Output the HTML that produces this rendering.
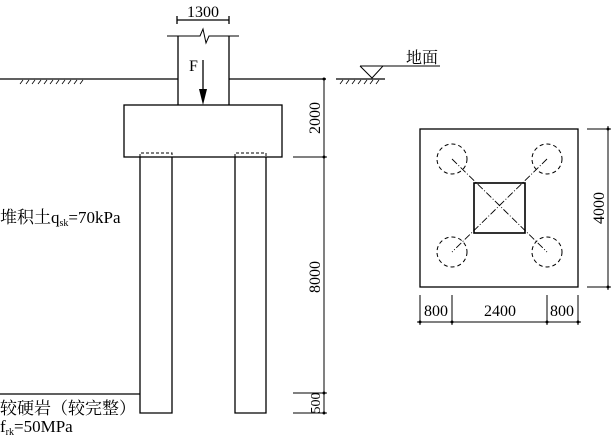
<!DOCTYPE html>
<html><head><meta charset="utf-8"><style>
html,body{margin:0;padding:0;background:#fff}
svg{display:block}
text{font-family:"Liberation Serif","Noto Serif CJK SC",serif;fill:#000}
</style></head><body>
<svg width="615" height="436" viewBox="0 0 615 436" xmlns="http://www.w3.org/2000/svg">
<g stroke="#000" stroke-width="1.3" fill="none">
<line x1="177" y1="20" x2="229" y2="20"/>
<line x1="177" y1="16" x2="177" y2="24"/><line x1="229" y1="16" x2="229" y2="24"/>
<polyline points="167,36 200,36 203,29 206,43 209,36 239,36" stroke-width="1"/>
<line x1="178" y1="36" x2="178" y2="105"/><line x1="229" y1="36" x2="229" y2="105"/>
<line x1="0" y1="79" x2="178" y2="79"/><line x1="229" y1="79" x2="326" y2="79"/>
<rect x="124" y="105" width="158" height="52"/>
<polyline points="140,157 140,413 172,413 172,157"/>
<polyline points="235,157 235,413 266,413 266,157"/>
<g stroke-dasharray="3,2" stroke-width="1">
<polyline points="140,157 140,153 172,153 172,157"/>
<polyline points="235,157 235,153 266,153 266,157"/>
</g>
<line x1="0" y1="394" x2="140" y2="394"/>
<line x1="324" y1="78" x2="324" y2="413" stroke-width="1"/>
<line x1="293" y1="157" x2="327" y2="157" stroke-width="1"/>
<line x1="293" y1="393" x2="327" y2="393" stroke-width="1"/>
<line x1="293" y1="413" x2="327" y2="413" stroke-width="1"/>
<line x1="336" y1="79" x2="385" y2="79"/>
<polyline points="360,66 372,78 383,66 360,66" stroke-width="1"/>
<line x1="383" y1="66" x2="440" y2="66" stroke-width="1"/>
<rect x="420" y="129" width="158" height="158"/>
<rect x="474" y="183" width="51" height="50" stroke-width="1.6"/>
<g stroke-dasharray="4,3" stroke-width="1">
<circle cx="452" cy="159" r="15"/><circle cx="547" cy="159" r="15"/>
<circle cx="452" cy="252" r="15"/><circle cx="547" cy="252" r="15"/>
</g>
<g stroke-dasharray="7,2,1,2" stroke-width="0.9">
<line x1="452" y1="159" x2="547" y2="252"/><line x1="547" y1="159" x2="452" y2="252"/>
</g>
<line x1="587" y1="129" x2="611" y2="129" stroke-width="1"/>
<line x1="587" y1="287" x2="611" y2="287" stroke-width="1"/>
<line x1="608" y1="126" x2="608" y2="290" stroke-width="1"/>
<line x1="417" y1="322" x2="581" y2="322" stroke-width="1"/>
<line x1="420" y1="295" x2="420" y2="325" stroke-width="1"/>
<line x1="452" y1="295" x2="452" y2="325" stroke-width="1"/>
<line x1="547" y1="295" x2="547" y2="325" stroke-width="1"/>
<line x1="578" y1="295" x2="578" y2="325" stroke-width="1"/>
</g>
<g stroke="#000" stroke-width="0.8">
<path d="M20,84l3,-4M26,84l3,-4M32,84l3,-4M38,84l3,-4M44,84l3,-4M50,84l3,-4M56,84l3,-4M62,84l3,-4M68,84l3,-4M74,84l3,-4M80,84l3,-4"/>
<path d="M340,84l3,-4M346,84l3,-4M352,84l3,-4M358,84l3,-4M364,84l3,-4M370,84l3,-4M376,84l3,-4"/>
</g>
<line x1="203" y1="60" x2="203" y2="92" stroke="#000" stroke-width="1.3"/>
<polygon points="199,89 207,89 203,105" fill="#000"/>
<g fill="#000"><circle cx="324" cy="79" r="1.5"/><circle cx="324" cy="157" r="1.5"/><circle cx="324" cy="393" r="1.5"/><circle cx="324" cy="413" r="1.5"/>
<circle cx="608" cy="129" r="1.5"/><circle cx="608" cy="287" r="1.5"/>
<circle cx="420" cy="322" r="1.5"/><circle cx="452" cy="322" r="1.5"/><circle cx="547" cy="322" r="1.5"/><circle cx="578" cy="322" r="1.5"/></g>
<text x="203" y="17" font-size="16" text-anchor="middle">1300</text>
<text x="189" y="71" font-size="16">F</text>
<text x="406" y="63" font-size="16">地面</text>
<text transform="translate(320,118) rotate(-90)" font-size="16" text-anchor="middle">2000</text>
<text transform="translate(320,277) rotate(-90)" font-size="16" text-anchor="middle">8000</text>
<text transform="translate(320,403) rotate(-90)" font-size="14" text-anchor="middle">500</text>
<text transform="translate(604,208) rotate(-90)" font-size="16" text-anchor="middle">4000</text>
<text x="436" y="316" font-size="16" text-anchor="middle">800</text>
<text x="500" y="316" font-size="16" text-anchor="middle">2400</text>
<text x="562" y="316" font-size="16" text-anchor="middle">800</text>
<text x="0" y="223" font-size="17">堆积土q<tspan font-size="10" dy="3">sk</tspan><tspan dy="-3">=70kPa</tspan></text>
<text x="0" y="414" font-size="17">较硬岩（较完整）</text>
<text x="0" y="432" font-size="17">f<tspan font-size="10" dy="3">rk</tspan><tspan dy="-3">=50MPa</tspan></text>
</svg>
</body></html>
